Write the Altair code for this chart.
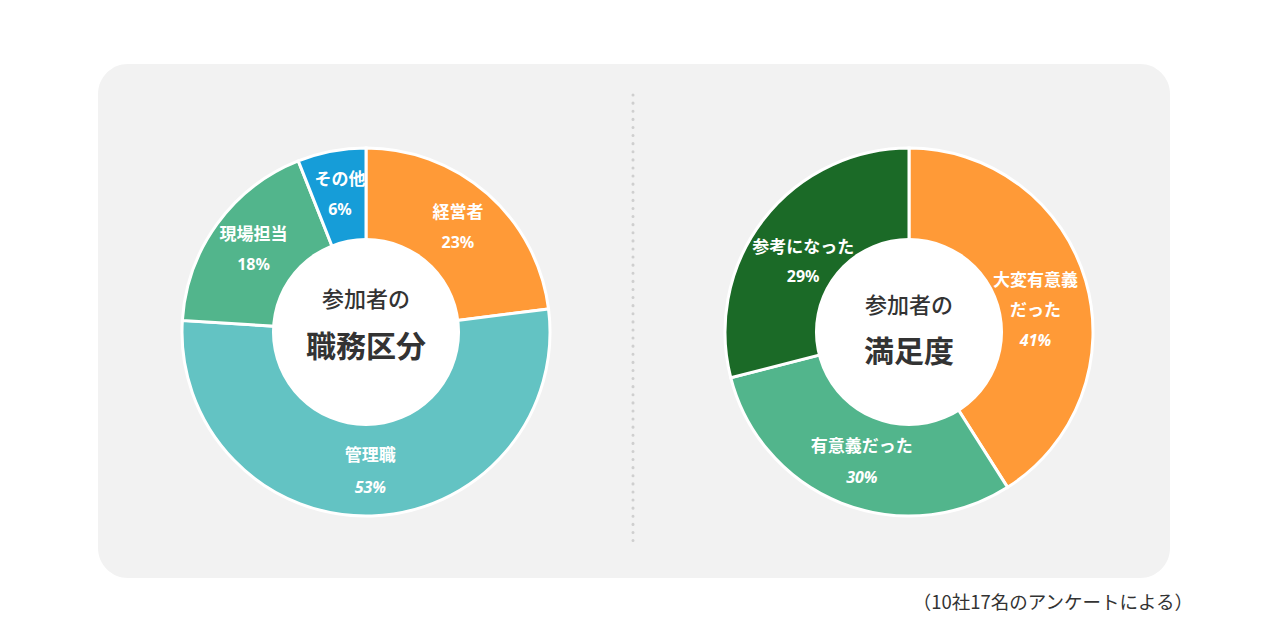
import math
import altair as alt
import pandas as pd

# ---- data ----
role_names = ["経営者", "管理職", "現場担当", "その他"]
role_pct = [23, 53, 18, 6]
role_colors = ["#FF9A37", "#63C3C3", "#52B58C", "#169DD8"]

sat_names = ["大変有意義だった", "有意義だった", "参考になった"]
sat_labels = ["大変有意義\nだった", "有意義だった", "参考になった"]
sat_pct = [41, 30, 29]
sat_colors = ["#FF9A37", "#52B58C", "#1B6A27"]

left_title = ["参加者の", "職務区分"]
right_title = ["参加者の", "満足度"]
footnote = "（10社17名のアンケートによる）"

FONT = "Noto Sans CJK JP"

role_df = pd.DataFrame({
    "name": role_names, "label": role_names, "pct": role_pct,
    "col": role_colors, "idx": list(range(len(role_names))),
})
role_df["pct_text"] = role_df["pct"].astype(str) + "%"

sat_df = pd.DataFrame({
    "name": sat_names, "label": sat_labels, "pct": sat_pct,
    "col": sat_colors, "idx": list(range(len(sat_names))),
})
sat_df["pct_text"] = sat_df["pct"].astype(str) + "%"

W, H = 1264, 624
LC = (358, 324)
RC = (901, 324)
R_OUT, R_IN, R_LAB = 184, 94, 139

# background panel
panel = alt.Chart(pd.DataFrame({"a": [0]})).mark_rect(
    fill="#F2F2F2", cornerRadius=30
).encode(x=alt.value(90), x2=alt.value(1162), y=alt.value(56), y2=alt.value(570))

divider = alt.Chart(pd.DataFrame({"a": [0]})).mark_rule(
    color="#CFCFCF", strokeWidth=3, strokeDash=[0.1, 8], strokeCap="round"
).encode(x=alt.value(625), y=alt.value(87), y2=alt.value(538))


def donut(df, center):
    cx, cy = center
    theta = alt.Theta("pct:Q", stack=True, scale=alt.Scale(domain=[0, 100]))
    order = alt.Order("idx:Q", sort="ascending")
    arcs = alt.Chart(df).mark_arc(outerRadius=R_OUT, innerRadius=R_IN - 4, stroke="white", strokeWidth=3).encode(
        theta=theta, order=order,
        color=alt.Color("col:N", scale=None),
        x=alt.value(cx), y=alt.value(cy),
    )
    hole = alt.Chart(pd.DataFrame({"a": [0]})).mark_arc(
        theta=0, theta2=2 * math.pi, outerRadius=R_IN, innerRadius=0, fill="white"
    ).encode(x=alt.value(cx), y=alt.value(cy))
    # label base: compute slice mid-point first, then filter
    base = alt.Chart(df).transform_window(
        cum="sum(pct)", sort=[alt.SortField("idx", order="ascending")],
        frame=[None, 0],
    ).transform_calculate(mid="datum.cum - datum.pct / 2")
    return arcs, hole, base


def labels(base, center, flt, name_dy, pct_dy, dx=0, italic=False):
    cx, cy = center
    b = base.transform_filter(flt)
    theta = alt.Theta("mid:Q", stack=None, scale=alt.Scale(domain=[0, 100]))
    name = b.mark_text(
        radius=R_LAB, font=FONT, fontSize=17, fontWeight="bold", color="white",
        dy=name_dy, dx=dx, lineBreak="\n", lineHeight=30, baseline="middle", align="center",
    ).encode(theta=theta, text="label:N", x=alt.value(cx), y=alt.value(cy))
    pct = b.mark_text(
        radius=R_LAB, font="Noto Sans", fontSize=16, fontWeight="bold", color="white",
        fontStyle="italic" if italic else "normal",
        dy=pct_dy, dx=dx, baseline="middle", align="center",
    ).encode(theta=theta, text="pct_text:N", x=alt.value(cx), y=alt.value(cy))
    return [name, pct]


l_arcs, l_hole, l_base = donut(role_df, LC)
r_arcs, r_hole, r_base = donut(sat_df, RC)

label_layers = []
label_layers += labels(l_base, LC, "datum.pct < 30", -15, 15)
label_layers += labels(l_base, LC, "datum.pct >= 30", -15, 17, italic=True)
label_layers += labels(r_base, RC, "datum.idx == 0", -12, 48, dx=-7, italic=True)
label_layers += labels(r_base, RC, "datum.idx == 1", -14, 17, dx=4, italic=True)
label_layers += labels(r_base, RC, "datum.idx == 2", 1, 30, dx=4)


def center_text(txt, center, dy, size, weight):
    cx, cy = center
    return alt.Chart(pd.DataFrame({"t": [txt]})).mark_text(
        font=FONT, fontSize=size, fontWeight=weight, color="#333333",
        align="center", baseline="middle",
    ).encode(text="t:N", x=alt.value(cx), y=alt.value(cy + dy))


centers = [
    center_text(left_title[0], LC, -32, 22, 500),
    center_text(left_title[1], LC, 16, 30, "bold"),
    center_text(right_title[0], RC, -26, 22, 500),
    center_text(right_title[1], RC, 21, 30, "bold"),
]

foot = alt.Chart(pd.DataFrame({"t": [footnote]})).mark_text(
    font=FONT, fontSize=18.5, color="#333333", align="right", baseline="middle"
).encode(text="t:N", x=alt.value(1185), y=alt.value(595))

chart = alt.layer(
    panel, divider, l_arcs, r_arcs, l_hole, r_hole, *label_layers, *centers, foot
).properties(
    width=W, height=H, padding=0, background="white"
).configure_view(stroke=None)

chart.save("out.html", embed_options={"renderer": "svg", "actions": False})
